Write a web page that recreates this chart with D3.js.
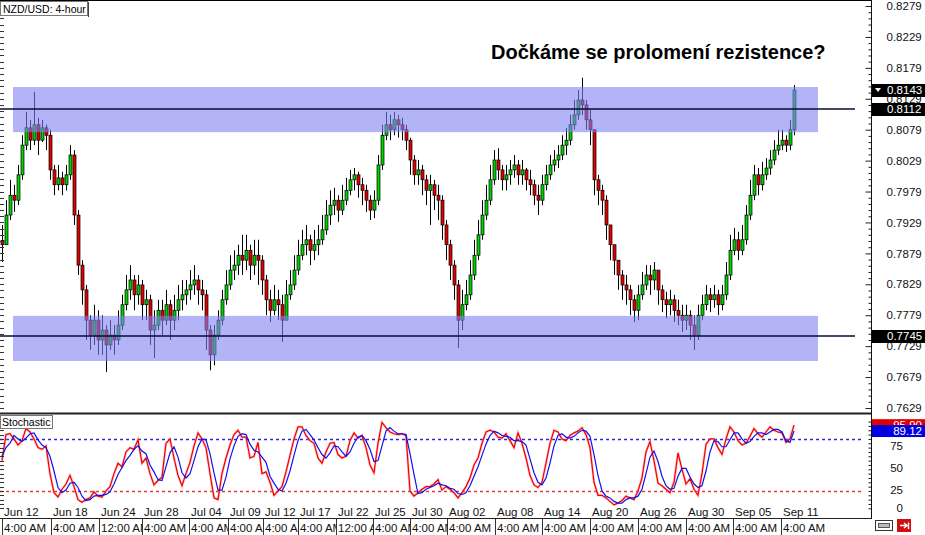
<!DOCTYPE html>
<html><head><meta charset="utf-8">
<script src="https://cdn.jsdelivr.net/npm/d3@7"></script>
<style>body{margin:0;background:#fff}svg{display:block;font-family:"Liberation Sans",Arial,sans-serif}</style>
</head><body><svg id="c" width="925" height="535"></svg>
<script>
// ---- data (prices in pips x10000) ----
const firstOpen = 7900;
const closeP = [7893,7941,7973,7965,8006,8054,8082,8062,8087,8062,
8082,8070,8014,7990,8001,7990,8006,8038,7941,7860,
7820,7771,7747,7771,7739,7755,7731,7747,7739,7763,
7796,7820,7836,7812,7828,7796,7804,7755,7763,7787,
7771,7796,7771,7787,7804,7812,7820,7828,7836,7820,
7812,7755,7715,7747,7771,7804,7828,7852,7860,7876,
7868,7884,7860,7876,7868,7836,7804,7787,7804,7796,
7771,7812,7828,7852,7876,7893,7901,7884,7893,7901,
7917,7941,7957,7965,7949,7965,7981,7998,8006,7990,
7981,7965,7949,7965,8022,8070,8087,8079,8095,8087,
8079,8062,8030,8006,8014,7998,7981,7990,7973,7965,
7925,7893,7860,7828,7771,7796,7812,7844,7876,7909,
7941,7965,7998,8030,8014,7998,8006,8014,8022,8006,
8014,7998,7990,7973,7965,7990,8006,8022,8030,8038,
8054,8062,8087,8103,8127,8119,8095,8079,7998,7981,
7965,7925,7893,7868,7844,7828,7820,7804,7787,7812,
7828,7844,7836,7852,7820,7804,7796,7804,7787,7779,
7771,7779,7763,7747,7779,7796,7812,7804,7812,7796,
7812,7844,7884,7901,7884,7901,7941,7973,8006,7990,
8006,8017,8030,8046,8054,8062,8054,8079,8143];
const highP = [7925,7965,7998,7990,8022,8070,8108,8095,8140,8098,
8095,8087,8079,8022,8022,8011,8022,8054,8046,7949,
7868,7828,7779,7796,7787,7779,7763,7771,7763,7787,
7812,7844,7860,7844,7844,7836,7820,7812,7787,7804,
7804,7820,7804,7812,7828,7836,7836,7852,7860,7844,
7836,7820,7763,7763,7787,7820,7852,7876,7884,7893,
7909,7909,7893,7901,7901,7876,7844,7820,7828,7820,
7812,7836,7852,7876,7901,7917,7925,7909,7917,7925,
7941,7965,7981,7985,7973,7990,8001,8014,8017,8011,
8001,7990,7973,7981,8038,8087,8108,8103,8108,8103,
8098,8087,8066,8038,8030,8022,8006,8006,7998,7990,
7973,7933,7901,7868,7836,7820,7836,7868,7901,7933,
7965,7990,8022,8046,8049,8022,8022,8030,8038,8030,
8030,8017,8014,7998,7990,8006,8022,8038,8046,8054,
8070,8082,8103,8127,8143,8163,8127,8111,8079,8006,
7990,7973,7925,7893,7868,7852,7844,7828,7812,7828,
7849,7860,7860,7865,7852,7828,7817,7820,7812,7804,
7796,7796,7787,7779,7796,7812,7828,7823,7828,7820,
7828,7865,7909,7920,7914,7925,7957,7998,8022,8017,
8027,8033,8046,8062,8079,8079,8070,8095,8151];
const lowP = [7865,7893,7933,7946,7957,7998,8046,8046,8054,8038,
8059,8046,7998,7973,7981,7973,7981,7998,7925,7844,
7796,7739,7723,7731,7715,7715,7687,7723,7715,7731,
7755,7787,7804,7787,7796,7771,7771,7731,7710,7755,
7747,7763,7739,7755,7771,7787,7796,7804,7812,7796,
7787,7723,7690,7698,7739,7763,7796,7820,7836,7844,
7844,7852,7836,7844,7828,7812,7779,7768,7779,7771,
7736,7771,7804,7820,7844,7868,7876,7860,7868,7876,
7893,7909,7925,7941,7930,7941,7957,7973,7981,7969,
7957,7946,7933,7936,7957,8014,8062,8062,8070,8066,
8062,8046,8006,7990,7990,7973,7957,7925,7949,7933,
7901,7868,7836,7804,7726,7755,7787,7804,7836,7868,
7901,7933,7957,7990,7998,7981,7981,7990,8001,7990,
7990,7981,7973,7957,7941,7957,7981,7998,8011,8017,
8030,8038,8054,8079,8095,8103,8079,8054,7973,7957,
7941,7901,7868,7844,7820,7804,7796,7779,7768,7771,
7804,7820,7812,7820,7796,7784,7774,7779,7768,7763,
7752,7755,7739,7723,7739,7771,7787,7784,7791,7779,
7787,7804,7836,7876,7868,7876,7893,7933,7965,7973,
7981,7998,8006,8022,8038,8046,8043,8046,8070];
const stochMain = [55,85,86,80,73,78,92,88,80,70,
68,72,40,18,13,22,28,38,25,10,
7,10,12,19,14,13,20,25,40,52,
48,65,70,68,79,52,58,40,27,32,
36,75,80,58,38,26,40,53,72,87,
80,70,40,12,10,40,58,73,85,90,
82,82,58,60,76,40,42,30,15,20,
25,42,61,80,94,94,84,78,75,58,
52,65,75,76,62,58,60,78,87,81,
84,70,50,41,75,99,93,88,86,85,
86,84,20,14,18,22,25,25,28,33,
21,25,22,18,12,18,25,35,50,58,
75,88,90,88,82,81,86,78,70,87,
75,58,38,27,24,30,52,75,90,88,
80,78,84,87,89,93,85,70,30,15,
15,12,8,4,6,9,14,12,10,20,
35,65,77,55,29,26,22,18,30,64,
45,28,34,22,15,40,74,80,80,70,
62,80,94,88,78,73,75,83,92,86,
82,88,94,90,88,87,76,80,95.9];
const stochSignal = [60,70,75,84,80,77,81,86,87,79,
73,70,60,43,24,18,21,29,30,24,
14,9,10,14,15,15,16,19,28,39,
47,55,61,68,72,66,63,50,42,33,
32,48,64,71,59,41,35,40,55,71,
80,79,63,41,21,21,36,57,72,83,
86,85,74,67,65,59,53,37,29,22,
20,29,43,61,78,89,91,85,79,70,
62,58,64,72,71,65,60,65,75,82,
84,78,68,54,55,72,89,93,89,86,
86,85,63,39,17,18,22,24,26,29,
27,26,23,22,17,16,18,26,37,48,
61,74,84,89,87,84,83,82,78,78,
77,73,57,41,30,27,35,52,72,84,
86,82,81,83,87,90,89,83,62,38,
20,14,12,8,6,6,10,12,12,14,
22,40,59,66,54,37,26,22,23,37,
46,46,36,28,24,26,43,65,78,77,
71,71,79,87,87,80,75,77,83,87,
87,85,88,91,91,88,78,76,89.12];
const priceTicks = [0.8279,0.8229,0.8179,0.8129,0.8079,0.8029,0.7979,0.7929,0.7879,0.7829,0.7779,0.7729,0.7679,0.7629];
const stochTicks = [75,50,25,0];
const stochLevels = [80,20];
const levelPrices = [0.8112,0.7745];
const zoneTop = [0.8148,0.7778];
const zoneBottom = [0.8075,0.7705];
const zoneBars = [2.75,204];
const dateLabels = ["Jun 12","Jun 18","Jun 24","Jun 28","Jul 04","Jul 09","Jul 12","Jul 17","Jul 22","Jul 25","Jul 30","Aug 02","Aug 08","Aug 14","Aug 20","Aug 26","Aug 30","Sep 05","Sep 11"];
const timeLabels = ["4:00 AM","4:00 AM","12:00 AM","4:00 AM","4:00 AM","4:00 AM","4:00 AM","4:00 AM","12:00 AM","4:00 AM","4:00 AM","4:00 AM","4:00 AM","4:00 AM","4:00 AM","4:00 AM","4:00 AM","4:00 AM","4:00 AM"];
const labelBars = [0,12.25,24.25,35,46.75,56.5,65.25,74,83.5,92.75,102,111.25,123.25,135,147,159,171,182.75,194.75];
const titleText = "Dočkáme se prolomení rezistence?";
const symbolText = "NZD/USD: 4-hour";

// ---- scales ----
const n = closeP.length;
const bars = d3.range(n).map(i => ({
  i, o: (i ? closeP[i-1] : firstOpen)/1e4, c: closeP[i]/1e4,
  h: Math.max(highP[i], closeP[i], i ? closeP[i-1] : firstOpen)/1e4,
  l: Math.min(lowP[i], closeP[i], i ? closeP[i-1] : firstOpen)/1e4
}));
const W = 871, MAIN_T = 1, MAIN_B = 413, ST_T = 415, ST_B = 518;
const x = d3.scaleLinear().domain([0, n-1]).range([2, 2 + 4*(n-1)]);
const y = d3.scaleLinear().domain([0.7629, 0.8279]).range([408, 6]);
const ys = d3.scaleLinear().domain([0, 100]).range([508.3, 421.6]);

const svg = d3.select("#c");
svg.append("rect").attr("width",925).attr("height",535).attr("fill","#fff");
const defs = svg.append("defs");
defs.append("clipPath").attr("id","cm").append("rect").attr("x",0).attr("y",MAIN_T).attr("width",W).attr("height",MAIN_B-MAIN_T-1);
defs.append("clipPath").attr("id","cs").append("rect").attr("x",0).attr("y",ST_T).attr("width",W).attr("height",ST_B-ST_T);

// ---- main panel ----
const gm = svg.append("g").attr("clip-path","url(#cm)");
const cg = gm.append("g");
bars.forEach(b => {
  const cx = Math.round(x(b.i));
  cg.append("line").attr("x1",cx+0.5).attr("x2",cx+0.5).attr("y1",y(b.h)).attr("y2",y(b.l)).attr("stroke","#000").attr("stroke-width",1);
  const top = y(Math.max(b.o,b.c)), bot = y(Math.min(b.o,b.c));
  cg.append("rect").attr("x",cx-1).attr("width",3).attr("y",top).attr("height",Math.max(1,bot-top))
    .attr("fill", b.c >= b.o ? "#00d000" : "#e00000").attr("stroke","#000").attr("stroke-width",0.7);
});
// zones
gm.selectAll(".zone").data(zoneTop).join("rect").attr("class","zone")
  .attr("x", x(zoneBars[0])).attr("width", x(zoneBars[1]) - x(zoneBars[0]))
  .attr("y", d => y(d)).attr("height", (d,k) => y(zoneBottom[k]) - y(d))
  .attr("fill","#8080f4").attr("opacity",0.6);
// level lines
gm.selectAll(".lvl").data(levelPrices).join("line").attr("class","lvl")
  .attr("x1",0).attr("x2",855).attr("y1",d=>Math.round(y(d))).attr("y2",d=>Math.round(y(d)))
  .attr("stroke","#0a0a35").attr("stroke-width",1.6);

// title
svg.append("text").attr("x",491).attr("y",59).attr("font-size",20).attr("font-weight","bold").attr("fill","#000").text(titleText);

// left-side small ticks
const minorPrices = d3.range(7629, 8280, 10).map(v => v/1e4);
svg.append("g").selectAll("line").data(minorPrices).join("line")
  .attr("x1",0).attr("x2",4).attr("y1",d=>Math.round(y(d))+0.5).attr("y2",d=>Math.round(y(d))+0.5).attr("stroke","#333");

// right price axis
const axR = d3.axisRight(y).tickValues(priceTicks).tickSize(0).tickPadding(15).tickFormat(d3.format(".4f"));
const ga = svg.append("g").attr("transform",`translate(${W+0.5},0)`).call(axR);
ga.select(".domain").remove();
ga.selectAll("text").attr("font-size",11.5).attr("fill","#111").attr("font-family","Liberation Sans, Arial");
const axT = d3.axisLeft(y).tickValues(minorPrices).tickSize(3).tickFormat("");
const gt = svg.append("g").attr("transform",`translate(${W+0.5},0)`).call(axT);
gt.select(".domain").remove();
gt.selectAll(".tick line").attr("stroke","#222").attr("x2", d => (Math.round(d*1e4)-7629)%50===0 ? -6 : -3);

// price boxes
const priceBoxes = [
  {v: closeP[n-1]/1e4, arrow:true},
  {v: levelPrices[0], arrow:false},
  {v: levelPrices[1], arrow:false}
];
const pb = svg.append("g").selectAll("g").data(priceBoxes).join("g");
pb.append("rect").attr("x",W+1).attr("width",925-W-1).attr("y",d=>Math.round(y(d.v))-6).attr("height",13).attr("fill","#000");
pb.append("text").attr("x",887).attr("y",d=>y(d.v)).attr("dy","0.36em").attr("font-size",11.5).attr("fill","#fff").text(d=>d3.format(".4f")(d.v));
pb.filter(d=>d.arrow).append("path").attr("d",d=>{const yy=Math.round(y(d.v)); return `M875,${yy-2}L881,${yy-2}L878,${yy+2}Z`;}).attr("fill","#fff");

// symbol label
svg.append("rect").attr("x",0.5).attr("y",1.5).attr("width",87).attr("height",14).attr("fill","#fff").attr("stroke","#777");
svg.append("line").attr("x1",88.5).attr("x2",88.5).attr("y1",2).attr("y2",17).attr("stroke","#444");
svg.append("text").attr("x",3).attr("y",12.5).attr("font-size",10.5).attr("fill","#000").text(symbolText);

// ---- stochastic panel ----
const gs = svg.append("g").attr("clip-path","url(#cs)");
gs.selectAll(".sl").data(stochLevels).join("line").attr("class","sl")
  .attr("x1",0).attr("x2",862).attr("y1",d=>Math.round(ys(d))+0.5).attr("y2",d=>Math.round(ys(d))+0.5)
  .attr("stroke",(d,k)=>k===0?"#2a2ad8":"#e03a3a").attr("stroke-width",1.3).attr("stroke-dasharray","3,3");
const line = d3.line().x((d,i)=>x(i)).y(d=>ys(d));
gs.append("path").datum(stochMain).attr("d",line).attr("fill","none").attr("stroke","#ff9090").attr("stroke-width",2.6).attr("opacity",0.5);
gs.append("path").datum(stochMain).attr("d",line).attr("fill","none").attr("stroke","#f00000").attr("stroke-width",1.2);
gs.append("path").datum(stochSignal).attr("d",line).attr("fill","none").attr("stroke","#1010f0").attr("stroke-width",1.2);

// stochastic axis
const sMinor = d3.range(0, 101, 5);
const gsa = svg.append("g").attr("transform",`translate(${W+0.5},0)`).call(d3.axisLeft(ys).tickValues(sMinor).tickSize(3).tickFormat(""));
gsa.select(".domain").remove();
gsa.selectAll(".tick line").attr("stroke","#222");
svg.append("g").selectAll("line").data(sMinor).join("line")
  .attr("x1",0).attr("x2",4).attr("y1",d=>Math.round(ys(d))+0.5).attr("y2",d=>Math.round(ys(d))+0.5).attr("stroke","#333");
svg.append("g").selectAll("text").data(stochTicks).join("text")
  .attr("x",903).attr("text-anchor","end").attr("y",d=>d===0?ys(d):ys(d)+3).attr("dy","0.36em")
  .attr("font-size",11.5).attr("fill","#111").text(d=>d);
// stochastic value boxes
const sBoxes = [{v: stochMain[n-1], fill:"#e00000"}, {v: stochSignal[n-1], fill:"#0000e0"}];
const sb = svg.append("g").selectAll("g").data(sBoxes).join("g");
sb.append("rect").attr("x",W+1).attr("width",925-W-1).attr("y",d=>ys(d.v)-6).attr("height",12).attr("fill",d=>d.fill);
sb.append("text").attr("x",922).attr("text-anchor","end").attr("y",d=>ys(d.v)).attr("dy","0.36em").attr("font-size",11.5).attr("fill","#fff").text(d=>d3.format(".2f")(d.v));

// stochastic label
svg.append("rect").attr("x",0.5).attr("y",415.5).attr("width",52).attr("height",13).attr("fill","#fff").attr("stroke","#777");
svg.append("text").attr("x",2).attr("y",425.5).attr("font-size",10.5).attr("fill","#000").text("Stochastic");

// frame lines
svg.append("line").attr("x1",0).attr("x2",W+1).attr("y1",0.5).attr("y2",0.5).attr("stroke","#000");
svg.append("line").attr("x1",0).attr("x2",W+1).attr("y1",413.5).attr("y2",413.5).attr("stroke","#222").attr("stroke-width",2);
svg.append("line").attr("x1",0).attr("x2",W+1).attr("y1",518.5).attr("y2",518.5).attr("stroke","#222");
svg.append("line").attr("x1",W+0.5).attr("x2",W+0.5).attr("y1",0).attr("y2",519).attr("stroke","#111");

// ---- time axis (two rows) ----
const tg = svg.append("g").selectAll("g").data(labelBars).join("g");
tg.append("text").attr("x",(d)=>Math.round(x(d))+2).attr("y",516).attr("font-size",11.5).attr("fill","#111").text((d,k)=>dateLabels[k]);
tg.append("rect").attr("x",d=>Math.round(x(d))+1).attr("y",520).attr("width",46).attr("height",15).attr("fill","#fff");
tg.append("text").attr("x",d=>Math.round(x(d))+2).attr("y",532).attr("font-size",11.5).attr("fill","#111").text((d,k)=>timeLabels[k]);
tg.append("line").attr("x1",d=>Math.round(x(d))+0.5).attr("x2",d=>Math.round(x(d))+0.5).attr("y1",519).attr("y2",535).attr("stroke","#333");

// bottom-right icons
svg.append("rect").attr("x",875.5).attr("y",520.5).attr("width",17).attr("height",10).attr("fill","#fff").attr("stroke","#333");
svg.append("rect").attr("x",878.5).attr("y",523.5).attr("width",11).attr("height",4).attr("fill","#bbb").attr("stroke","#333").attr("stroke-width",0.8);
svg.append("rect").attr("x",897).attr("y",519).attr("width",14).attr("height",13).attr("fill","#d01010");
svg.append("path").attr("d","M900,525.5H906M904,523L907,525.5L904,528M908.5,522.5V529").attr("stroke","#fff").attr("stroke-width",1.5).attr("fill","none");
</script></body></html>
